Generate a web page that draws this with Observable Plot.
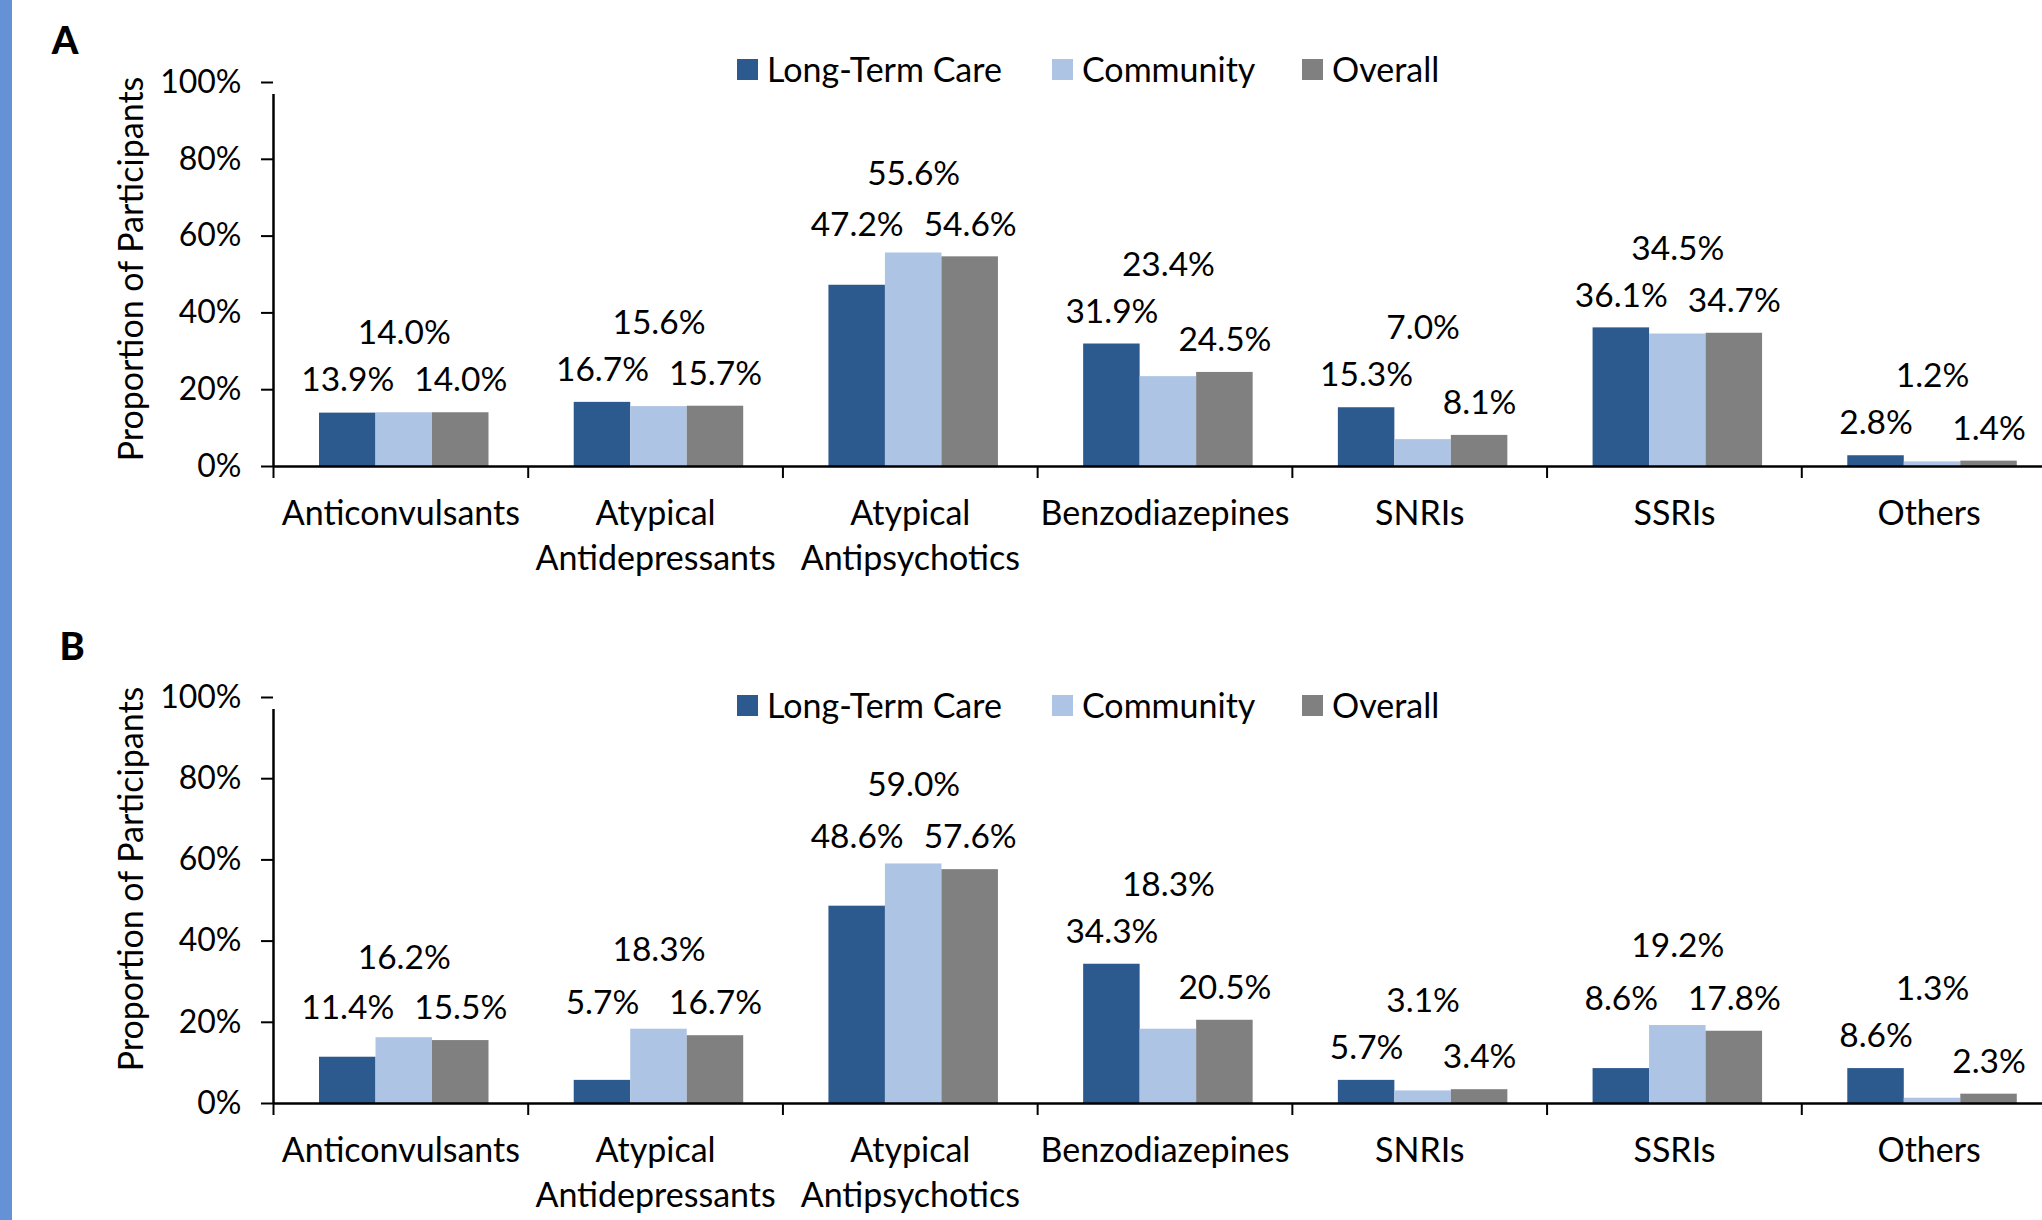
<!DOCTYPE html>
<html><head><meta charset="utf-8">
<script src="https://cdn.jsdelivr.net/npm/d3@7"></script>
<script src="https://cdn.jsdelivr.net/npm/@observablehq/plot@0.6"></script>
<style>
html,body{margin:0;padding:0;background:#fff;}
body{width:2042px;height:1220px;overflow:hidden;position:relative;font-family:Lato,sans-serif;color:#000;}
#strip{position:absolute;left:0;top:0;width:12px;height:1220px;background:#6592d6;}
.panel{position:absolute;left:0;width:2056px;}
.panel svg{display:block;}
.letter{position:absolute;font-weight:900;font-size:38px;line-height:1;transform:translate(-50%,-50%);}
.ytitle{position:absolute;font-size:34px;line-height:1;white-space:nowrap;transform:translate(-50%,-50%) rotate(-90deg);}
.legend-item{position:absolute;display:flex;align-items:center;font-size:34px;line-height:1;transform:translateY(-50%);white-space:nowrap;}
.swatch{width:21px;height:21px;margin-right:9px;}
</style></head>
<body>
<div id="strip"></div>
<div id="root"></div>
<script>
// ---- data ----
const categories = ["Anticonvulsants", "Atypical Antidepressants", "Atypical Antipsychotics", "Benzodiazepines", "SNRIs", "SSRIs", "Others"];
const categoryLabels = ["Anticonvulsants", "Atypical\nAntidepressants", "Atypical\nAntipsychotics", "Benzodiazepines", "SNRIs", "SSRIs", "Others"];
const seriesNames = ["Long-Term Care", "Community", "Overall"];
const seriesColors = ["#2d5a8e", "#aec4e4", "#808080"];
const yTicks = [0, 20, 40, 60, 80, 100];

const ltcA = [13.9, 16.7, 47.2, 31.9, 15.3, 36.1, 2.8];
const communityA = [14.0, 15.6, 55.6, 23.4, 7.0, 34.5, 1.2];
const overallA = [14.0, 15.7, 54.6, 24.5, 8.1, 34.7, 1.4];

const ltcB = [11.4, 5.7, 48.6, 34.3, 5.7, 8.6, 8.6];
const communityB = [16.2, 18.3, 59.0, 18.3, 3.1, 19.2, 1.3];
const overallB = [15.5, 16.7, 57.6, 20.5, 3.4, 17.8, 2.3];

// ---- layout ----
const W = 2056, ML = 273, MR = 0;
const bw = (W - ML - MR) / categories.length;
const gapL = 46, barW = 56.5;
const tickFont = 32, labelFont = 33.5, catFont = 34;

function buildRows(ltc, comm, overall) {
  return categories.map((cat, i) => {
    const vals = [ltc[i], comm[i], overall[i]];
    return seriesNames.map((s, j) => ({
      cat, series: s, value: vals[j],
      label: vals[j].toFixed(1) + "%",
      // label anchor heights derived from the values to avoid overlaps
      labelY: j === 0 ? Math.max(vals[0], vals[2]) : j === 1 ? Math.max(...vals) : vals[2]
    }));
  }).flat();
}

function drawPanel(cfg) {
  const panel = document.createElement("div");
  panel.className = "panel";
  panel.style.top = cfg.top + "px";
  panel.style.height = cfg.height + "px";
  document.getElementById("root").appendChild(panel);

  const rows = buildRows(cfg.ltc, cfg.comm, cfg.overall);
  const marks = [];
  seriesNames.forEach((s, j) => {
    const left = gapL + j * barW;
    const right = bw - left - barW;
    const data = rows.filter(d => d.series === s);
    marks.push(Plot.barY(data, {x: "cat", y: "value", fill: seriesColors[j], insetLeft: left, insetRight: right}));
  });
  marks.push(Plot.ruleY([0], {stroke: "#000", strokeWidth: 2.5}));
  marks.push(Plot.ruleX([categories[0]], {dx: -bw / 2, y1: 0, y2: 100, insetBottom: -12, stroke: "#000", strokeWidth: 2.5}));
  marks.push(Plot.ruleX(categories, {dx: -bw / 2, y1: 0, y2: 0, insetBottom: -12, stroke: "#000", strokeWidth: 2}));
  marks.push(Plot.axisY({ticks: yTicks, tickFormat: d => d + "%", tickSize: 12, tickPadding: 20, fontSize: tickFont, strokeWidth: 2, label: null}));
  marks.push(Plot.text(categories, {x: d => d, text: (d, i) => categoryLabels[i], frameAnchor: "bottom", lineAnchor: "top", dy: 26, lineHeight: 1.34, fontSize: catFont}));
  seriesNames.forEach((s, j) => {
    const center = gapL + j * barW + barW / 2;
    const data = rows.filter(d => d.series === s);
    marks.push(Plot.text(data, {x: "cat", y: "labelY", text: "label", dx: center - bw / 2, dy: j === 1 ? -79 : -32, fontSize: labelFont}));
  });

  const chart = Plot.plot({
    width: W, height: cfg.height,
    marginLeft: ML, marginRight: MR, marginTop: cfg.marginTop, marginBottom: cfg.marginBottom,
    style: {fontFamily: "Lato, sans-serif", fontSize: tickFont + "px", color: "#000", background: "transparent", overflow: "visible"},
    x: {type: "band", domain: categories, padding: 0, round: false, axis: null},
    y: {domain: [0, 100]},
    marks
  });
  panel.appendChild(chart);

  const letter = document.createElement("div");
  letter.className = "letter";
  letter.textContent = cfg.letter;
  letter.style.left = cfg.letterX + "px";
  letter.style.top = cfg.letterY + "px";
  panel.appendChild(letter);

  const title = document.createElement("div");
  title.className = "ytitle";
  title.textContent = "Proportion of Participants";
  title.style.left = "130px";
  title.style.top = cfg.titleY + "px";
  panel.appendChild(title);

  const legendX = [737, 1052, 1302];
  seriesNames.forEach((s, j) => {
    const item = document.createElement("div");
    item.className = "legend-item";
    item.style.left = legendX[j] + "px";
    item.style.top = cfg.legendY + "px";
    const sw = document.createElement("span");
    sw.className = "swatch";
    sw.style.background = seriesColors[j];
    const tx = document.createElement("span");
    tx.textContent = s;
    item.appendChild(sw); item.appendChild(tx);
    panel.appendChild(item);
  });
}

drawPanel({top: 0, height: 600, marginTop: 82, marginBottom: 134, ltc: ltcA, comm: communityA, overall: overallA,
  letter: "A", letterX: 65, letterY: 39, titleY: 269, legendY: 69});
drawPanel({top: 600, height: 620, marginTop: 97, marginBottom: 117, ltc: ltcB, comm: communityB, overall: overallB,
  letter: "B", letterX: 72, letterY: 45, titleY: 279, legendY: 105});
</script>
</body></html>
